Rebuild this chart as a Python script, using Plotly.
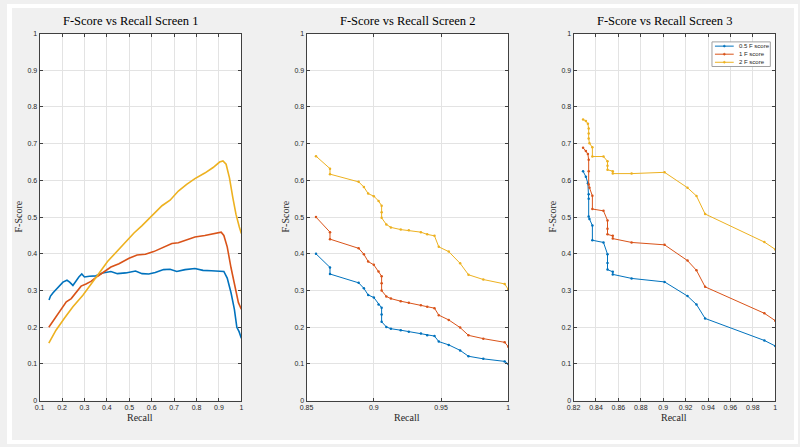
import plotly.graph_objects as go

# ---------------- data ----------------
# Screen 1 (dense curves)
s1_recall_b05 = [0.142, 0.1485, 0.160, 0.175, 0.190, 0.204, 0.222, 0.234, 0.2485, 0.260, 0.275, 0.288,
                 0.300, 0.322, 0.351, 0.381, 0.418, 0.447, 0.484, 0.528, 0.557, 0.587, 0.616, 0.653,
                 0.682, 0.712, 0.749, 0.793, 0.829, 0.866, 0.910, 0.922, 0.937, 0.954, 0.969, 0.980,
                 0.990, 1.0]
s1_fscore_b05 = [0.274, 0.285, 0.294, 0.303, 0.312, 0.323, 0.328, 0.323, 0.314, 0.325, 0.337, 0.345,
                 0.337, 0.339, 0.340, 0.348, 0.352, 0.346, 0.348, 0.353, 0.346, 0.345, 0.349, 0.357,
                 0.358, 0.352, 0.357, 0.360, 0.355, 0.354, 0.354, 0.352, 0.334, 0.294, 0.249, 0.200,
                 0.188, 0.170]

s1_recall_b1 = [0.141, 0.155, 0.1676, 0.182, 0.197, 0.219, 0.241, 0.263, 0.285, 0.307, 0.329, 0.359,
                0.388, 0.418, 0.454, 0.499, 0.535, 0.572, 0.609, 0.646, 0.690, 0.719, 0.756, 0.793,
                0.837, 0.881, 0.910, 0.922, 0.937, 0.954, 0.969, 0.987, 1.0]
s1_fscore_b1 = [0.200, 0.212, 0.2225, 0.235, 0.249, 0.269, 0.278, 0.294, 0.312, 0.318, 0.325, 0.339,
                0.352, 0.364, 0.373, 0.388, 0.397, 0.399, 0.406, 0.417, 0.428, 0.430, 0.439, 0.446,
                0.450, 0.455, 0.459, 0.450, 0.419, 0.362, 0.318, 0.267, 0.249]

s1_recall_b2 = [0.141, 0.173, 0.212, 0.2485, 0.293, 0.329, 0.366, 0.403, 0.440, 0.484, 0.521, 0.557,
                0.601, 0.646, 0.682, 0.719, 0.756, 0.793, 0.837, 0.874, 0.903, 0.918, 0.932, 0.947,
                0.962, 0.976, 0.991, 1.0]
s1_fscore_b2 = [0.157, 0.192, 0.226, 0.256, 0.287, 0.316, 0.348, 0.379, 0.403, 0.4325, 0.4567, 0.477,
                0.504, 0.531, 0.546, 0.571, 0.589, 0.605, 0.620, 0.635, 0.650, 0.653, 0.644, 0.607,
                0.553, 0.508, 0.473, 0.455]

# Screen 2
s2_recall = [0.857, 0.8674, 0.8674, 0.8887, 0.8926, 0.8958, 0.9, 0.9035, 0.9058, 0.9058, 0.9058,
             0.9093, 0.9127, 0.9200, 0.9260, 0.9350, 0.9397, 0.9451, 0.9483, 0.9557, 0.9642,
             0.9704, 0.9814, 0.9973, 1.0]
s2_fscore_b05 = [0.400, 0.363, 0.345, 0.321, 0.306, 0.288, 0.281, 0.262, 0.253, 0.235, 0.215, 0.201,
                 0.196, 0.192, 0.188, 0.183, 0.178, 0.176, 0.161, 0.152, 0.137, 0.121, 0.114, 0.107,
                 0.100]
s2_fscore_b1 = [0.500, 0.459, 0.440, 0.415, 0.399, 0.379, 0.370, 0.352, 0.339, 0.320, 0.300, 0.284,
                0.278, 0.271, 0.267, 0.260, 0.256, 0.252, 0.233, 0.220, 0.199, 0.178, 0.169, 0.159,
                0.147]
s2_fscore_b2 = [0.666, 0.632, 0.617, 0.596, 0.582, 0.564, 0.557, 0.544, 0.531, 0.513, 0.498, 0.480,
                0.472, 0.466, 0.464, 0.459, 0.453, 0.449, 0.419, 0.406, 0.374, 0.343, 0.330, 0.318,
                0.303]

# Screen 3
s3_recall = [0.8285, 0.8310, 0.8328, 0.8335, 0.8335, 0.8335, 0.8342, 0.8368, 0.8368, 0.8467, 0.8503,
             0.8503, 0.8503, 0.8550, 0.8550, 0.8718, 0.9012, 0.9217, 0.9297, 0.9374, 0.9903, 1.0]
s3_fscore_b05 = [0.625, 0.610, 0.592, 0.562, 0.550, 0.502, 0.495, 0.477, 0.437, 0.431, 0.399, 0.375,
                 0.357, 0.351, 0.344, 0.333, 0.3235, 0.285, 0.262, 0.224, 0.164, 0.149]
s3_fscore_b1 = [0.689, 0.680, 0.672, 0.656, 0.625, 0.589, 0.580, 0.558, 0.522, 0.517, 0.491, 0.468,
                0.453, 0.449, 0.4415, 0.431, 0.4245, 0.3815, 0.355, 0.310, 0.238, 0.218]
s3_fscore_b2 = [0.766, 0.762, 0.754, 0.741, 0.728, 0.714, 0.701, 0.690, 0.665, 0.665, 0.652, 0.640,
                0.629, 0.625, 0.6185, 0.6185, 0.622, 0.580, 0.5576, 0.5085, 0.432, 0.412]

series_names = ["0.5 F score", "1 F score", "2 F score"]
titles = ["F-Score vs Recall Screen 1", "F-Score vs Recall Screen 2", "F-Score vs Recall Screen 3"]

x_ticks = [
    [0.1, 0.2, 0.3, 0.4, 0.5, 0.6, 0.7, 0.8, 0.9, 1.0],
    [0.85, 0.9, 0.95, 1.0],
    [0.82, 0.84, 0.86, 0.88, 0.9, 0.92, 0.94, 0.96, 0.98, 1.0],
]
x_tick_labels = [
    ["0.1", "0.2", "0.3", "0.4", "0.5", "0.6", "0.7", "0.8", "0.9", "1"],
    ["0.85", "0.9", "0.95", "1"],
    ["0.82", "0.84", "0.86", "0.88", "0.9", "0.92", "0.94", "0.96", "0.98", "1"],
]
y_ticks = [0, 0.1, 0.2, 0.3, 0.4, 0.5, 0.6, 0.7, 0.8, 0.9, 1.0]
y_tick_labels = ["0", "0.1", "0.2", "0.3", "0.4", "0.5", "0.6", "0.7", "0.8", "0.9", "1"]

# ---------------- styling ----------------
W, H = 800, 447
colors = ["#0072BD", "#D95319", "#EDB120"]
panel_px = [(33, 237), (303, 507), (573, 777)]
title_cx_px = [125, 405, 665]
y_top_px, y_bot_px = 30, 403
serif = "Liberation Serif"
sans = "Liberation Sans"
axis_col = "#404040"


def px(x):
    return x / W


def py(y):
    return 1 - y / H


fig = go.Figure()

panels = [
    ([s1_recall_b05, s1_recall_b1, s1_recall_b2], [s1_fscore_b05, s1_fscore_b1, s1_fscore_b2]),
    ([s2_recall] * 3, [s2_fscore_b05, s2_fscore_b1, s2_fscore_b2]),
    ([s3_recall] * 3, [s3_fscore_b05, s3_fscore_b1, s3_fscore_b2]),
]

for p, (xs, ys) in enumerate(panels):
    suffix = "" if p == 0 else str(p + 1)
    for k in range(3):
        if p == 0:
            mode = "lines"
            line = dict(color=colors[k], width=1.6)
            marker = None
        else:
            mode = "lines+markers"
            line = dict(color=colors[k], width=1)
            marker = dict(size=2.5, color=colors[k])
        fig.add_trace(go.Scatter(
            x=xs[k], y=ys[k], mode=mode, line=line, marker=marker,
            name=series_names[k], showlegend=False,
            xaxis="x" + suffix, yaxis="y" + suffix,
        ))

layout = dict(
    width=W, height=H,
    margin=dict(l=0, r=0, t=0, b=0),
    paper_bgcolor="#f0f0f0",
    plot_bgcolor="white",
    showlegend=False,
    annotations=[],
    shapes=[],
)

x_ranges = [[0.1, 1.0], [0.85, 1.0], [0.82, 1.0]]
for p in range(3):
    suffix = "" if p == 0 else str(p + 1)
    x0, x1 = panel_px[p]
    common = dict(
        showline=True, linecolor=axis_col, linewidth=1, mirror="ticks",
        ticks="inside", ticklen=3, tickcolor=axis_col,
        showgrid=True, gridcolor="#e3e3e3", gridwidth=1,
        zeroline=False,
        tickfont=dict(size=7, family=sans, color="#262626"),
    )
    layout["xaxis" + suffix] = dict(
        domain=[px(x0), px(x1)], range=x_ranges[p], anchor="y" + suffix,
        tickmode="array", tickvals=x_ticks[p], ticktext=x_tick_labels[p],
        **common,
    )
    layout["yaxis" + suffix] = dict(
        domain=[py(y_bot_px), py(y_top_px)], range=[0, 1], anchor="x" + suffix,
        tickmode="array", tickvals=y_ticks, ticktext=y_tick_labels,
        **common,
    )
    cx = px((x0 + x1) / 2)
    layout["annotations"].append(dict(
        text=titles[p], x=px(title_cx_px[p]), y=py(17), xref="paper", yref="paper",
        showarrow=False, xanchor="center", yanchor="middle",
        font=dict(size=12.5, family=serif, color="#000000"),
    ))
    layout["annotations"].append(dict(
        text="Recall", x=cx, y=py(420), xref="paper", yref="paper",
        showarrow=False, xanchor="center", yanchor="middle",
        font=dict(size=10, family=serif, color="#262626"),
    ))
    layout["annotations"].append(dict(
        text="F-Score", x=px(x0 - 21), y=py(216), xref="paper", yref="paper",
        showarrow=False, xanchor="center", yanchor="middle", textangle=-90,
        font=dict(size=10, family=serif, color="#262626"),
    ))

# legend box (panel 3, top right)
lg_x0, lg_x1, lg_y0, lg_y1 = 713, 772, 38.5, 63.5
layout["shapes"].append(dict(type="rect", xref="paper", yref="paper",
                             x0=px(lg_x0), x1=px(lg_x1), y0=py(lg_y1), y1=py(lg_y0),
                             fillcolor="white", line=dict(color="#a0a0a0", width=1), layer="above"))
for k, name in enumerate(series_names):
    ey = 42.8 + 8.2 * k
    layout["shapes"].append(dict(type="line", xref="paper", yref="paper",
                                 x0=px(716), x1=px(735), y0=py(ey), y1=py(ey),
                                 line=dict(color=colors[k], width=1), layer="above"))
    layout["shapes"].append(dict(type="circle", xref="paper", yref="paper",
                                 x0=px(724.5), x1=px(726.5), y0=py(ey + 1), y1=py(ey - 1),
                                 fillcolor=colors[k], line=dict(color=colors[k], width=0.5),
                                 layer="above"))
    layout["annotations"].append(dict(
        text=name, x=px(738), y=py(ey), xref="paper", yref="paper",
        showarrow=False, xanchor="left", yanchor="middle",
        font=dict(size=6, family=sans, color="#262626"),
    ))

# thin white frame around the grey figure area (screenshot border)
for (a, b, c, d) in [(0, 0, px(5), 1), (0, 0, 1, 4 / H), (0, py(4), 1, 1), (px(796), 0, 1, 1)]:
    layout["shapes"].append(dict(type="rect", xref="paper", yref="paper",
                                 x0=a, y0=b, x1=c, y1=d, fillcolor="white",
                                 line=dict(width=0), layer="above"))

fig.update_layout(**layout)
fig.write_html("out.html", config={"displayModeBar": False},
               post_script="document.body.style.margin='0px';")
